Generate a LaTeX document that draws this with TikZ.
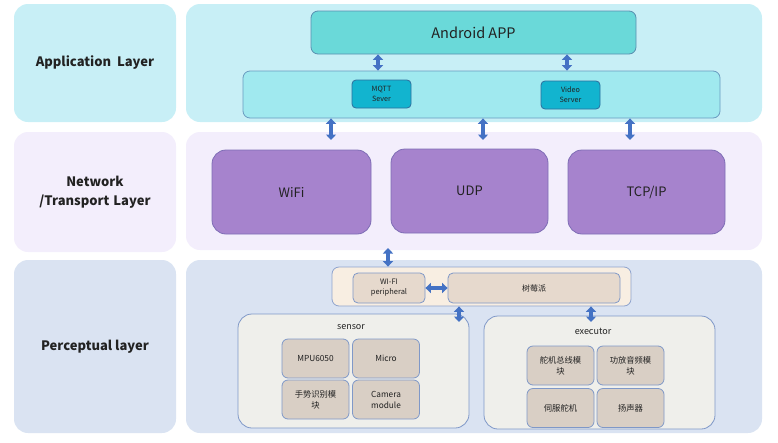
\documentclass[tikz,border=0pt]{standalone}
\usepackage{fontspec}
\setmainfont{Noto Sans CJK SC}
\usetikzlibrary{arrows.meta}
\definecolor{appBg}{HTML}{C8EFF6}
\definecolor{netBg}{HTML}{F3EEFC}
\definecolor{perBg}{HTML}{DAE3F2}
\definecolor{andFill}{HTML}{6AD9D9}
\definecolor{andLine}{HTML}{5A8FB0}
\definecolor{barFill}{HTML}{A0E9EF}
\definecolor{barLine}{HTML}{6A9BC0}
\definecolor{srvFill}{HTML}{12B4CF}
\definecolor{srvLine}{HTML}{2E6E9E}
\definecolor{purFill}{HTML}{A683CD}
\definecolor{purLine}{HTML}{7E6DB5}
\definecolor{rbFill}{HTML}{F8EEE2}
\definecolor{rbLine}{HTML}{8EA3CE}
\definecolor{piFill}{HTML}{E6D9CD}
\definecolor{grpFill}{HTML}{EFEFEB}
\definecolor{itFill}{HTML}{D9CFC5}
\definecolor{itLine}{HTML}{7F98C8}
\definecolor{arrBlue}{HTML}{4472C4}
\definecolor{txt}{HTML}{222222}
\tikzset{
  panel/.style={rounded corners=14pt, inner sep=0pt, draw=none},
  leftlbl/.style={font=\fontsize{13}{19}\selectfont\bfseries, text=txt, align=center},
  box/.style={rounded corners=7pt, inner sep=0pt, line width=0.8pt, align=center, text=txt},
  dbl/.style={line width=3.8pt, draw=arrBlue, {Triangle[width=10pt,length=5.5pt]}-{Triangle[width=10pt,length=5.5pt]}},
}
\begin{document}
\begin{tikzpicture}[x=1pt,y=-1pt]
\useasboundingbox (0,0) rectangle (778,442);
% left panels
\node[panel, fill=appBg, minimum width=162pt, minimum height=118pt, leftlbl] (lApp) at (95,63) {Application\hspace{0.45em}Layer};
\node[panel, fill=netBg, minimum width=162pt, minimum height=120pt, leftlbl] (lNet) at (95,192) {Network\\/Transport\hspace{0.3em}Layer};
\node[panel, fill=perBg, minimum width=162pt, minimum height=173pt, leftlbl] (lPer) at (95,346.5) {Perceptual layer};
% right panels
\node[panel, fill=appBg, minimum width=576pt, minimum height=118pt] (rApp) at (474,63) {};
\node[panel, fill=netBg, minimum width=576pt, minimum height=118pt] (rNet) at (474,191) {};
\node[panel, fill=perBg, minimum width=576pt, minimum height=173pt] (rPer) at (474,346.5) {};
% application layer
\node[box, fill=andFill, draw=andLine, minimum width=325pt, minimum height=43pt, font=\fontsize{14.5}{17}\selectfont] (android) at (473.5,32.5) {Android APP};
\node[box, fill=barFill, draw=barLine, minimum width=477pt, minimum height=47pt] (bar) at (481.5,94.5) {};
\node[box, rounded corners=4pt, fill=srvFill, draw=srvLine, minimum width=59pt, minimum height=28pt, font=\fontsize{7.2}{10}\selectfont] (mqtt) at (381.5,94) {MQTT\\Sever};
\node[box, rounded corners=4pt, fill=srvFill, draw=srvLine, minimum width=59pt, minimum height=28pt, font=\fontsize{7.2}{10}\selectfont] (video) at (570.5,95) {Video\\Server};
% network layer
\node[box, rounded corners=14pt, fill=purFill, draw=purLine, minimum width=159pt, minimum height=84pt, font=\fontsize{13}{15}\selectfont] (wifi) at (291.5,192) {WiFi};
\node[box, rounded corners=14pt, fill=purFill, draw=purLine, minimum width=157pt, minimum height=84pt, font=\fontsize{13}{15}\selectfont] (udp) at (469.5,191) {UDP};
\node[box, rounded corners=14pt, fill=purFill, draw=purLine, minimum width=157pt, minimum height=84pt, font=\fontsize{13}{15}\selectfont] (tcp) at (646.5,192) {TCP/IP};
% perceptual layer
\node[box, fill=rbFill, draw=rbLine, minimum width=299pt, minimum height=39pt] (rasp) at (481.5,286.5) {};
\node[box, rounded corners=5pt, fill=piFill, draw=itLine, minimum width=72pt, minimum height=30pt, font=\fontsize{7.5}{10}\selectfont] (wifip) at (389,288) {WI-FI\\peripheral};
\node[box, rounded corners=5pt, fill=piFill, draw=itLine, minimum width=172pt, minimum height=30pt, font=\fontsize{8}{10}\selectfont] (pi) at (534,288) {树莓派};
\node[box, rounded corners=14pt, fill=grpFill, draw=itLine, minimum width=231pt, minimum height=114pt] (sensor) at (353.5,371) {};
\node[font=\fontsize{9}{11}\selectfont, text=txt] (sensorT) at (351,327) {sensor};
\node[box, rounded corners=14pt, fill=grpFill, draw=itLine, minimum width=231pt, minimum height=113pt] (exec) at (599.5,372.5) {};
\node[font=\fontsize{9}{11}\selectfont, text=txt] (execT) at (593,331) {executor};
\tikzset{item/.style={box, rounded corners=6pt, fill=itFill, draw=itLine, minimum width=67pt, minimum height=39pt, font=\fontsize{8.3}{11}\selectfont}}
\node[item] (mpu) at (315.5,358.5) {MPU6050};
\node[item] (micro) at (386,358.5) {Micro};
\node[item] (gest) at (315.5,399.5) {手势识别模\\块};
\node[item] (cam) at (386,399.5) {Camera\\module};
\node[item] (servobus) at (560.5,365.5) {舵机总线模\\块};
\node[item] (amp) at (630.5,365.5) {功放音频模\\块};
\node[item] (servo) at (560.5,408) {伺服舵机};
\node[item] (spk) at (630.5,408) {扬声器};
% arrows
\draw[dbl] (android.south -| 378,0) -- (bar.north -| 378,0);
\draw[dbl] (android.south -| 567,0) -- (bar.north -| 567,0);
\coordinate (n1) at (331,140);
\coordinate (n2) at (483,140);
\coordinate (n3) at (630,140);
\draw[dbl] (bar.south -| n1) -- (n1);
\draw[dbl] (bar.south -| n2) -- (n2);
\draw[dbl] (bar.south -| n3) -- (n3);
\coordinate (p1) at (388,248);
\draw[dbl] (p1) -- (rasp.north -| p1);
\draw[dbl] (wifip.east) -- (pi.west);
\coordinate (s1) at (459,322);
\coordinate (s2) at (591,322);
\draw[dbl] (rasp.south -| s1) -- (s1);
\draw[dbl] (rasp.south -| s2) -- (s2);
\end{tikzpicture}
\end{document}
